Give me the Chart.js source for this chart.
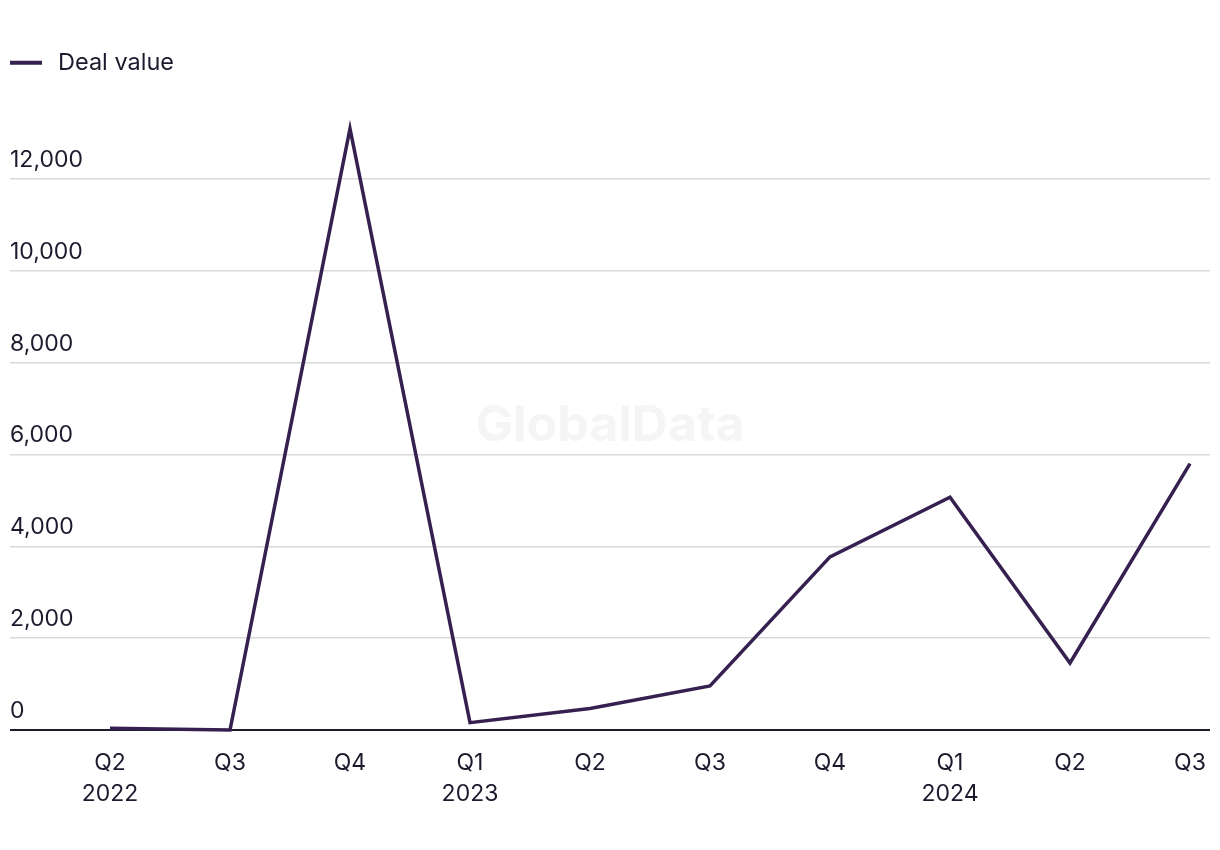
<!DOCTYPE html>
<html>
<head>
<meta charset="utf-8">
<script src="https://cdn.jsdelivr.net/npm/chart.js@4"></script>
<style>
  html, body { margin: 0; padding: 0; background: #fff; }
  #wrap { width: 1220px; height: 850px; }
</style>
</head>
<body>
<div id="wrap"><canvas id="dealChart" width="1220" height="850"></canvas></div>
<script>
const quarters = ['Q2', 'Q3', 'Q4', 'Q1', 'Q2', 'Q3', 'Q4', 'Q1', 'Q2', 'Q3'];
const years = ['2022', '', '', '2023', '', '', '', '2024', '', ''];
const dealValue = [40, 0, 13100, 160, 470, 960, 3770, 5070, 1460, 5800];
const yTicks = [0, 2000, 4000, 6000, 8000, 10000, 12000];

const textColor = '#1c1b2e';
const lineColor = '#35204f';
const fontFamily = 'Inter, sans-serif';

const watermark = {
    id: 'watermark',
    beforeDatasetsDraw(chart) {
        const { ctx } = chart;
        ctx.save();
        ctx.font = 'bold 50px ' + fontFamily;
        ctx.fillStyle = '#f5f5f5';
        ctx.textAlign = 'center';
        ctx.textBaseline = 'middle';
        ctx.fillText('GlobalData', 610, 426);
        ctx.restore();
    }
};

const ctx = document.getElementById('dealChart');

new Chart(ctx, {
    type: 'line',
    data: {
        datasets: [{
            label: 'Deal value',
            data: dealValue.map((v, i) => ({ x: i, y: v })),
            borderColor: lineColor,
            backgroundColor: lineColor,
            borderWidth: 3.5,
            pointRadius: 0,
            tension: 0,
            clip: false
        }]
    },
    options: {
        responsive: false,
        animation: false,
        layout: {
            padding: { left: 10, right: 10, top: 51, bottom: 32 }
        },
        plugins: {
            legend: {
                position: 'top',
                align: 'start',
                labels: {
                    usePointStyle: true,
                    pointStyle: 'line',
                    pointStyleWidth: 32,
                    padding: 0,
                    color: textColor,
                    font: { family: fontFamily, size: 23.5 },
                    generateLabels(chart) {
                        return [{
                            text: '\u2009Deal value',
                            strokeStyle: lineColor,
                            fillStyle: lineColor,
                            lineWidth: 4,
                            pointStyle: 'line',
                            fontColor: textColor,
                            datasetIndex: 0
                        }];
                    }
                }
            },
            tooltip: { enabled: false }
        },
        scales: {
            x: {
                type: 'linear',
                min: -100 / 120,
                max: 9 + 20 / 120,
                afterBuildTicks(scale) {
                    scale.ticks = quarters.map((q, i) => ({ value: i }));
                },
                afterFit(scale) {
                    scale.height = 88;
                    scale.paddingLeft = 0;
                    scale.paddingRight = 0;
                },
                grid: { display: false, drawTicks: false },
                border: { display: false },
                ticks: {
                    autoSkip: false,
                    maxRotation: 0,
                    padding: 18,
                    color: textColor,
                    font: { family: fontFamily, size: 23, lineHeight: 1.35 },
                    callback(value) {
                        const i = Math.round(value);
                        return years[i] ? [quarters[i], years[i]] : quarters[i];
                    }
                }
            },
            y: {
                min: 0,
                max: 14060,
                afterBuildTicks(scale) {
                    scale.ticks = yTicks.map(v => ({ value: v }));
                },
                afterFit(scale) {
                    scale.width = 0;
                },
                grid: {
                    drawTicks: false,
                    color: c => c.tick && c.tick.value === 0 ? textColor : '#d9d9d9',
                    lineWidth: c => c.tick && c.tick.value === 0 ? 2 : 1.5
                },
                border: { display: false },
                ticks: {
                    mirror: true,
                    padding: 0,
                    labelOffset: -19,
                    color: textColor,
                    font: { family: fontFamily, size: 23 },
                    callback: v => v.toLocaleString('en-US')
                }
            }
        }
    },
    plugins: [watermark]
});
</script>
</body>
</html>
